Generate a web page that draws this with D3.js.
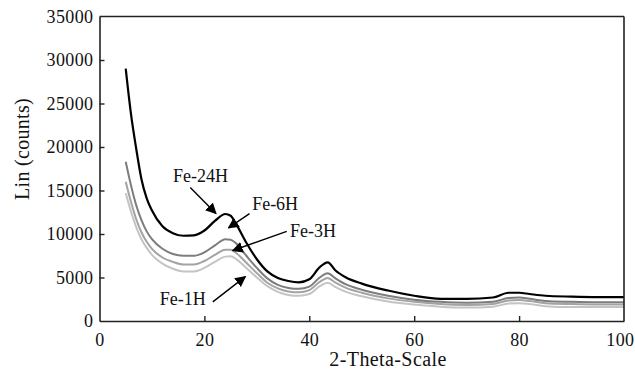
<!DOCTYPE html>
<html>
<head>
<meta charset="utf-8">
<script src="https://cdn.jsdelivr.net/npm/d3@7"></script>
<style>
  body { margin: 0; background: #fff; }
  svg text { font-family: "Liberation Serif", "DejaVu Serif", serif; fill: #111; }
</style>
</head>
<body>
<svg id="chart" width="635" height="372"></svg>
<script>
// 2-theta positions sampled along the patterns
var theta = [5, 6, 7, 8, 9, 10, 12, 14, 16, 18, 20, 22, 24, 25, 26, 28, 30, 32, 34, 36, 38, 40, 42, 43.5, 45, 47, 50, 55, 60, 65, 70, 75, 78, 80, 82, 85, 90, 95, 100];

// counts
var fe24 = [29000, 23800, 19800, 16300, 14100, 12700, 10900, 10100, 9800, 9850, 10400, 11500, 12300, 12100, 11200, 9000, 7100, 5700, 4950, 4600, 4450, 4800, 6200, 6750, 5800, 5000, 4300, 3500, 2900, 2550, 2550, 2700, 3250, 3250, 3100, 2900, 2800, 2750, 2750];
var fe6  = [18300, 15600, 13300, 11600, 10300, 9400, 8300, 7700, 7500, 7500, 7900, 8700, 9400, 9350, 8950, 7500, 6100, 4900, 4150, 3800, 3700, 3950, 5000, 5500, 4900, 4200, 3600, 2900, 2450, 2200, 2100, 2200, 2650, 2700, 2550, 2300, 2200, 2150, 2150];
var fe3  = [16000, 13700, 11700, 10200, 9100, 8300, 7300, 6800, 6500, 6500, 6900, 7600, 8200, 8200, 7850, 6700, 5500, 4400, 3750, 3400, 3300, 3550, 4500, 4950, 4400, 3800, 3250, 2600, 2200, 1950, 1850, 1950, 2350, 2400, 2300, 2050, 1950, 1900, 1900];
var fe1  = [14700, 12600, 10800, 9400, 8400, 7600, 6600, 6000, 5700, 5700, 6100, 6800, 7400, 7450, 7150, 6100, 5000, 4000, 3350, 3000, 2900, 3100, 4000, 4400, 3900, 3350, 2850, 2250, 1900, 1650, 1550, 1650, 2000, 2050, 1950, 1700, 1600, 1600, 1600];

var seriesNames = ["Fe-1H", "Fe-3H", "Fe-6H", "Fe-24H"];
var seriesColors = ["#c4c4c4", "#a3a3a3", "#7d7d7d", "#000000"];
var seriesValues = [fe1, fe3, fe6, fe24];

var xTicks = [0, 20, 40, 60, 80, 100];
var yTicks = [0, 5000, 10000, 15000, 20000, 25000, 30000, 35000];

// labels with arrows, in data units: text pos, arrow start, arrow tip
var notes = [
  {label: "Fe-24H", tx: 14.0, ty: 16000, x1: 17.3, y1: 15350, x2: 22.2, y2: 12350},
  {label: "Fe-6H",  tx: 29.1, ty: 12750, x1: 28.6, y1: 12350, x2: 24.6, y2: 10700},
  {label: "Fe-3H",  tx: 36.3, ty: 9650,  x1: 35.7, y1: 10300, x2: 25.4, y2: 8100},
  {label: "Fe-1H",  tx: 11.5, ty: 1850,  x1: 21.6, y1: 2200,  x2: 27.8, y2: 5100}
];

var svg = d3.select("#chart");
var plotL = 99.5, plotT = 16.5, plotR = 624, plotB = 321;

var x = d3.scaleLinear().domain([0, 100]).range([plotL, plotR]);
var y = d3.scaleLinear().domain([0, 35000]).range([plotB, plotT]);

// curves
var line = d3.line()
  .x(function(d) { return x(d[0]); })
  .y(function(d) { return y(d[1]); })
  .curve(d3.curveMonotoneX);

seriesValues.forEach(function(vals, i) {
  svg.append("path")
    .datum(theta.map(function(t, j) { return [t, vals[j]]; }))
    .attr("d", line)
    .attr("fill", "none")
    .attr("stroke", seriesColors[i])
    .attr("stroke-width", i == 3 ? 2.2 : 2);
});

// axes, ticks point inwards
var xAxis = svg.append("g")
  .attr("transform", "translate(0," + plotB + ")")
  .call(d3.axisBottom(x).tickValues(xTicks).tickFormat(d3.format("d")).tickSizeInner(-5).tickSizeOuter(0).tickPadding(10));
var yAxis = svg.append("g")
  .attr("transform", "translate(" + plotL + ",0)")
  .call(d3.axisLeft(y).tickValues(yTicks).tickFormat(d3.format("d")).tickSizeInner(-5).tickSizeOuter(0).tickPadding(6));

[xAxis, yAxis].forEach(function(g) {
  g.select(".domain").attr("stroke", "#222").attr("stroke-width", 1.6);
  g.selectAll(".tick line").attr("stroke", "#222").attr("stroke-width", 1.4);
  g.selectAll(".tick text")
    .style("font-family", "'Liberation Serif', serif")
    .style("font-size", "18px")
    .style("letter-spacing", "0.4px")
    .attr("fill", "#111");
});
xAxis.selectAll(".tick text").attr("dy", "0.82em");
// last x label sits against the right edge, as in the original
xAxis.selectAll(".tick text").filter(function(d) { return d == 100; })
  .attr("text-anchor", "end").attr("x", 634 - plotR);
// no tick marks at the corners
xAxis.selectAll(".tick line").filter(function(d) { return d == 0 || d == 100; }).remove();
yAxis.selectAll(".tick line").filter(function(d) { return d == 0 || d == 35000; }).remove();

// top and right frame
svg.append("line").attr("x1", plotL).attr("x2", plotR).attr("y1", plotT).attr("y2", plotT)
  .attr("stroke", "#222").attr("stroke-width", 1.6);
svg.append("line").attr("x1", plotR).attr("x2", plotR).attr("y1", plotT).attr("y2", plotB)
  .attr("stroke", "#222").attr("stroke-width", 1.6);

// axis titles
svg.append("text")
  .attr("x", 388)
  .attr("y", 366)
  .attr("text-anchor", "middle")
  .style("font-size", "20px")
  .style("letter-spacing", "0.4px")
  .text("2-Theta-Scale");
svg.append("text")
  .attr("transform", "translate(29," + 149 + ") rotate(-90)")
  .attr("text-anchor", "middle")
  .style("font-size", "20px")
  .style("letter-spacing", "0.3px")
  .text("Lin (counts)");

// arrow head
svg.append("defs").append("marker")
  .attr("id", "head")
  .attr("viewBox", "0 0 10 10")
  .attr("refX", 9).attr("refY", 5)
  .attr("markerWidth", 11).attr("markerHeight", 11)
  .attr("markerUnits", "userSpaceOnUse")
  .attr("orient", "auto")
  .append("path")
  .attr("d", "M0,0 L10,5 L0,10 Z")
  .attr("fill", "#000");

var g = svg.append("g");
g.selectAll("line.arrow")
  .data(notes)
  .enter().append("line")
  .attr("class", "arrow")
  .attr("x1", function(d) { return x(d.x1); })
  .attr("y1", function(d) { return y(d.y1); })
  .attr("x2", function(d) { return x(d.x2); })
  .attr("y2", function(d) { return y(d.y2); })
  .attr("stroke", "#000")
  .attr("stroke-width", 1.4)
  .attr("marker-end", "url(#head)");

g.selectAll("text.note")
  .data(notes)
  .enter().append("text")
  .attr("class", "note")
  .attr("x", function(d) { return x(d.tx); })
  .attr("y", function(d) { return y(d.ty); })
  .style("font-size", "18px")
  .text(function(d) { return d.label; });
</script>
</body>
</html>
